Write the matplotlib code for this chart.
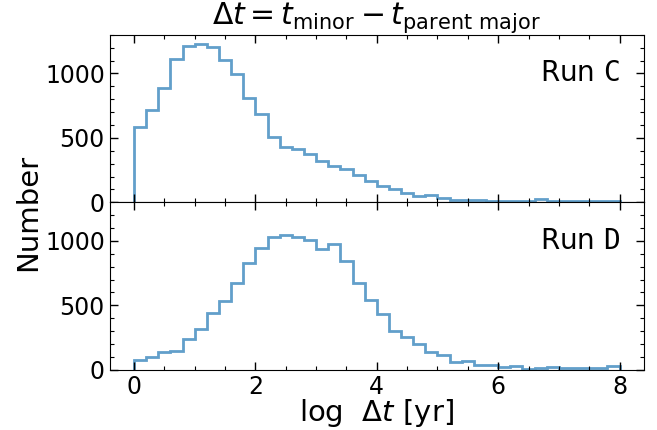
import numpy as np
import matplotlib
matplotlib.use("Agg")
import matplotlib.pyplot as plt
from matplotlib.ticker import MultipleLocator

# bin edges: log dt from 0 to 8, width 0.2
edges = np.linspace(0, 8, 41)

run_c = [588, 713, 885, 1112, 1216, 1232, 1208, 1107, 995, 812,
         685, 505, 432, 411, 375, 323, 279, 258, 211, 167,
         128, 102, 70, 49, 57, 31, 21, 21, 18, 13,
         10, 10, 13, 26, 13, 13, 8, 8, 13, 10]

run_d = [75, 101, 135, 148, 241, 313, 443, 531, 673, 826,
         948, 1028, 1046, 1031, 1010, 940, 976, 844, 671, 541,
         435, 300, 251, 199, 135, 114, 57, 67, 41, 34,
         23, 28, 10, 16, 23, 16, 16, 13, 16, 31]

labels = [r"Run $\mathtt{C}$", r"Run $\mathtt{D}$"]

fig, axes = plt.subplots(2, 1, figsize=(6.57, 4.30), dpi=100,
                         sharex=True, sharey=True)
fig.subplots_adjust(left=0.167, right=0.980, top=0.919, bottom=0.140, hspace=0)

for ax, vals, lab in zip(axes, [run_c, run_d], labels):
    ax.stairs(vals, edges, baseline=0, color="C0", alpha=0.7, linewidth=2)
    ax.text(0.955, 0.77, lab, transform=ax.transAxes, ha="right", va="center",
            fontsize=20)
    ax.tick_params(which="both", direction="in", top=True, right=True,
                   labelsize=17)
    ax.tick_params(which="major", length=6, width=1)
    ax.tick_params(which="minor", length=3, width=0.8)
    ax.xaxis.set_major_locator(MultipleLocator(2))
    ax.xaxis.set_minor_locator(MultipleLocator(0.5))
    ax.yaxis.set_major_locator(MultipleLocator(500))
    ax.yaxis.set_minor_locator(MultipleLocator(100))

axes[0].set_xlim(-0.4, 8.4)
axes[0].set_ylim(0, 1300)
axes[0].set_title(r"$\Delta t = t_{\rm minor} - t_{\rm parent\ major}$",
                  fontsize=21.5, pad=6)
axes[1].set_xlabel(r"log  $\Delta t$ [yr]", fontsize=21, labelpad=-1.5)
fig.text(0.043, 1 - 212 / 430, "Number", rotation=90, fontsize=21,
         ha="center", va="center")

fig.savefig("out.png", dpi=100)
